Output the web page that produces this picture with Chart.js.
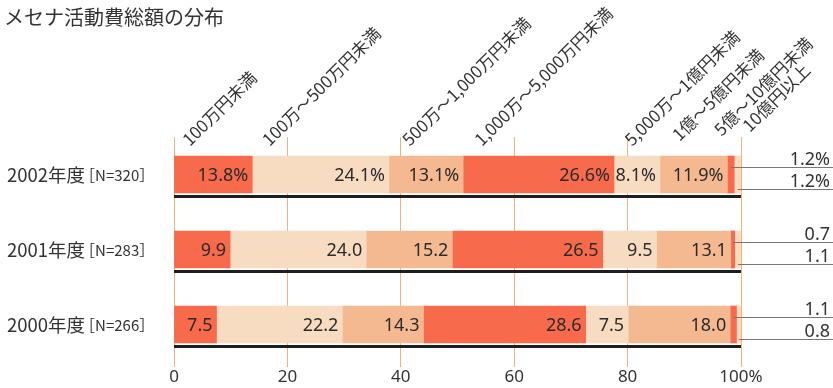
<!DOCTYPE html>
<html>
<head>
<meta charset="utf-8">
<script src="https://cdn.jsdelivr.net/npm/chart.js@4"></script>
<style>
  html, body { margin: 0; padding: 0; background: #fff; }
  #wrap { width: 833px; height: 388px; position: relative; }
</style>
</head>
<body>
<div id="wrap"><canvas id="mecena"></canvas></div>
<script>
// data
var years = ['2002年度', '2001年度', '2000年度'];
var sampleN = ['N=320', 'N=283', 'N=266'];
var bands = ['100万円未満', '100万～500万円未満', '500万～1,000万円未満', '1,000万～5,000万円未満',
             '5,000万～1億円未満', '1億～5億円未満', '5億～10億円未満', '10億円以上'];
var share2002 = [13.8, 24.1, 13.1, 26.6, 8.1, 11.9, 1.2, 1.2];
var share2001 = [9.9, 24.0, 15.2, 26.5, 9.5, 13.1, 0.7, 1.1];
var share2000 = [7.5, 22.2, 14.3, 28.6, 7.5, 18.0, 1.1, 0.8];
var xTicks = [0, 20, 40, 60, 80, 100];

var rows = [share2002, share2001, share2000];
var RED = '#f76a4b', BEIGE = '#f7dcc2', PEACH = '#f5b991';
var bandColors = [RED, BEIGE, PEACH, RED, BEIGE, PEACH, RED, BEIGE];
var GRID = '#f4b07c';
var INK = '#2b2b2b';
var CJK = '"Noto Sans CJK JP", "Noto Sans", sans-serif';
var NUM = '"Noto Sans", "Noto Sans CJK JP", sans-serif';

var datasets = bands.map(function (name, k) {
  return {
    label: name,
    data: rows.map(function (r) { return r[k]; }),
    backgroundColor: bandColors[k],
    borderWidth: 0,
    barThickness: 37
  };
});

// where the slanted header texts start (in % units along x) and how much they lift
var headerAt = [2.8, 16.9, 41.6, 54.3, 80.8, 89.2, 96.6, 101.6];
var headerLift = [0, 0, 0, 0, 0, 5, 10, 14];

var decor = {
  id: 'decor',
  afterDatasetsDraw: function (chart) {
    var ctx = chart.ctx, xs = chart.scales.x, ys = chart.scales.y;
    ctx.save();

    // title
    ctx.fillStyle = '#333';
    ctx.font = '20px ' + CJK;
    ctx.textAlign = 'left';
    ctx.textBaseline = 'middle';
    ctx.fillText('メセナ活動費総額の分布', 4, 17);

    // slanted band headers
    ctx.font = '17px ' + CJK;
    ctx.textBaseline = 'alphabetic';
    bands.forEach(function (name, k) {
      ctx.save();
      ctx.translate(xs.getPixelForValue(headerAt[k]), 147 - headerLift[k]);
      ctx.rotate(-Math.PI / 4);
      ctx.fillText(name, 0, 0);
      ctx.restore();
    });

    years.forEach(function (yr, i) {
      var cy = ys.getPixelForValue(i);
      // row label
      ctx.fillStyle = '#333';
      ctx.textAlign = 'left';
      ctx.textBaseline = 'middle';
      ctx.font = '18.5px ' + CJK;
      ctx.fillText(yr, 7, cy);
      var w = ctx.measureText(yr).width;
      ctx.font = '15px ' + CJK;
      ctx.fillText('［' + sampleN[i] + '］', 7 + w - 5, cy + 1);

      // underline
      var bottom = cy + 18.5;
      ctx.strokeStyle = '#1e1e1e';
      ctx.lineWidth = 3;
      ctx.beginPath();
      ctx.moveTo(xs.getPixelForValue(0), bottom + 3.5);
      ctx.lineTo(xs.getPixelForValue(100), bottom + 3.5);
      ctx.stroke();

      // values inside the bar
      ctx.fillStyle = INK;
      ctx.font = '18px ' + NUM;
      ctx.textAlign = 'right';
      var suffix = i === 0 ? '%' : '';
      for (var k = 0; k < 6; k++) {
        var el = chart.getDatasetMeta(k).data[i];
        ctx.fillText(rows[i][k].toFixed(1) + suffix, el.x - 4, cy + 1);
      }

      // the two thin slices get leader lines to the right
      var top = cy - 18.5;
      [6, 7].forEach(function (k, j) {
        var el = chart.getDatasetMeta(k).data[i];
        var ly = top + 11 + j * 22;
        ctx.strokeStyle = '#777';
        ctx.lineWidth = 1;
        ctx.beginPath();
        ctx.moveTo((el.x + el.base) / 2, ly + 0.5);
        ctx.lineTo(chart.width, ly + 0.5);
        ctx.stroke();
        ctx.fillStyle = '#333';
        ctx.textBaseline = 'alphabetic';
        ctx.fillText(rows[i][k].toFixed(1) + suffix, 830, ly - 2);
        ctx.textBaseline = 'middle';
      });
    });
    ctx.restore();
  }
};

new Chart(document.getElementById('mecena'), {
  type: 'bar',
  data: { labels: years, datasets: datasets },
  options: {
    indexAxis: 'y',
    responsive: true,
    maintainAspectRatio: false,
    animation: false,
    layout: { padding: { left: 174, right: 92, top: 137, bottom: 0 } },
    plugins: { legend: { display: false }, tooltip: { enabled: false } },
    scales: {
      x: {
        stacked: true,
        min: 0,
        max: 100,
        afterBuildTicks: function (axis) {
          axis.ticks = xTicks.map(function (v) { return { value: v }; });
        },
        ticks: {
          color: '#333',
          font: { family: NUM, size: 17, lineHeight: 1 },
          padding: 2,
          callback: function (v) { return v === 100 ? '100%' : v; }
        },
        grid: { color: GRID, lineWidth: 1, tickLength: 5, tickColor: GRID },
        border: { display: false }
      },
      y: {
        display: false,
        stacked: true
      }
    }
  },
  plugins: [decor]
});
</script>
</body>
</html>
